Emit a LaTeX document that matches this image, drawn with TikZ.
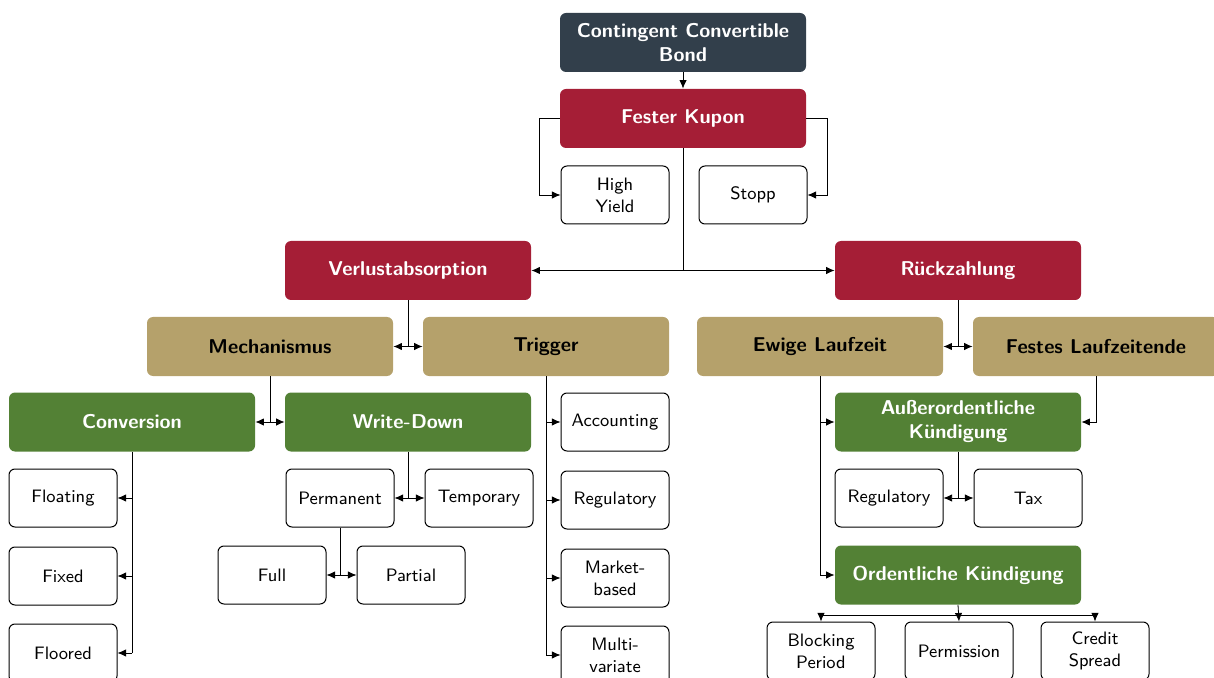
\documentclass[tikz,border=0pt]{standalone}
\usepackage{tikz}
\usetikzlibrary{arrows.meta,positioning}
\definecolor{cocoslate}{RGB}{50,63,75}
\definecolor{cocored}{RGB}{165,30,54}
\definecolor{cocotan}{RGB}{181,161,107}
\definecolor{cocogreen}{RGB}{83,129,53}

\begin{document}
\begin{tikzpicture}[x=0.5pt, y=-0.5pt,
  font=\sffamily\small,
  wide/.style={rounded corners=3pt, align=center, minimum width=123pt,
               minimum height=29.5pt, inner sep=2pt, font=\sffamily\bfseries},
  rootbox/.style={wide, fill=cocoslate, text=white},
  redbox/.style={wide, fill=cocored, text=white},
  tanbox/.style={wide, fill=cocotan, text=black},
  greenbox/.style={wide, fill=cocogreen, text=white},
  leaf/.style={draw, rounded corners=3pt, align=center, minimum width=54pt,
               minimum height=29pt, inner sep=1pt, line width=0.5pt},
  arr/.style={-{Latex[length=1.5mm, width=1.3mm]}, line width=0.4pt},
  dbl/.style={{Latex[length=1.5mm, width=1.3mm]}-{Latex[length=1.5mm, width=1.3mm]}, line width=0.4pt},
  trunk/.style={line width=0.4pt}]
\useasboundingbox (0,0) rectangle (1214,678);
% top of the tree
\node[rootbox] (root) at (683,42.5) {Contingent Convertible\\Bond};
\node[redbox] (kupon) at (683,118.5) {Fester Kupon};
\node[leaf] (yield) at (615,195) {High\\Yield};
\node[leaf, right=14.5pt of yield] (stopp) {Stopp};
\node[redbox] (verlust) at (408,270.5) {Verlustabsorption};
\node[redbox] (rueck) at (958,270.5) {R\"uckzahlung};
% second level
\node[tanbox] (mech) at (270,346.5) {Mechanismus};
\node[tanbox] (trig) at (546,346.5) {Trigger};
\node[tanbox] (ewig) at (820,346.5) {Ewige Laufzeit};
\node[tanbox] (festes) at (1096,346.5) {Festes Laufzeitende};
\node[greenbox] (conv) at (132,422) {Conversion};
\node[greenbox] (wdown) at (408,422) {Write-Down};
\node[greenbox] (aord) at (958,422) {Au\ss erordentliche\\K\"undigung};
\node[greenbox] (ord) at (958,575) {Ordentliche K\"undigung};
% leaves
\node[leaf] (float) at (63,498) {Floating};
\node[leaf, below=9.5pt of float] (fixed) {Fixed};
\node[leaf, below=9pt of fixed] (floored) {Floored};
\node[leaf] (perm) at (340,498) {Permanent};
\node[leaf, right=15pt of perm] (temp) {Temporary};
\node[leaf] (full) at (272,575) {Full};
\node[leaf, right=15pt of full] (partial) {Partial};
\node[leaf] (acc) at (615,422) {Accounting};
\node[leaf, below=9.5pt of acc] (treg) {Regulatory};
\node[leaf, below=9.5pt of treg] (market) {Market-\\based};
\node[leaf, below=9pt of market] (multi) {Multi-\\variate};
\node[leaf] (creg) at (889,498) {Regulatory};
\node[leaf, right=15pt of creg] (tax) {Tax};
\node[leaf] (block) at (821,651) {Blocking\\Period};
\node[leaf] (permis) at (959,651) {Permission};
\node[leaf] (credit) at (1095,651) {Credit\\Spread};
% connectors
\draw[arr] (root) -- (kupon);
\draw[arr] (kupon.west) -- ++(-20,0) |- (yield.west);
\draw[arr] (kupon.east) -- ++(21,0) |- (stopp.east);
\draw[trunk] (kupon.south) -- (kupon.south |- verlust.east);
\draw[dbl] (verlust) -- (rueck);
\draw[trunk] (verlust.south) -- (verlust.south |- mech.east);
\draw[dbl] (mech) -- (trig);
\draw[trunk] (rueck.south) -- (rueck.south |- ewig.east);
\draw[dbl] (ewig) -- (festes);
\draw[trunk] (mech.south) -- (mech.south |- conv.east);
\draw[dbl] (conv) -- (wdown);
\draw[trunk] (conv.south) -- (conv.south |- floored.east);
\foreach \n in {float,fixed,floored}
  \draw[arr] (conv.south |- \n.east) -- (\n.east);
\draw[trunk] (wdown.south) -- (wdown.south |- perm.east);
\draw[dbl] (perm) -- (temp);
\draw[trunk] (perm.south) -- (perm.south |- full.east);
\draw[dbl] (full) -- (partial);
\draw[trunk] (trig.south) -- (trig.south |- multi.west);
\foreach \n in {acc,treg,market,multi}
  \draw[arr] (trig.south |- \n.west) -- (\n.west);
\draw[trunk] (ewig.south) -- (ewig.south |- ord.west);
\draw[arr] (ewig.south |- aord.west) -- (aord.west);
\draw[arr] (ewig.south |- ord.west) -- (ord.west);
\draw[arr] (festes.south) |- (aord.east);
\draw[trunk] (aord.south) -- (aord.south |- creg.east);
\draw[dbl] (creg) -- (tax);
\draw[arr] (ord.south) -- (permis.north);
\draw[trunk] (ord.south) ++(0,10) coordinate (split) (split -| block.north) -- (split -| credit.north);
\draw[arr] (split -| block.north) -- (block.north);
\draw[arr] (split -| credit.north) -- (credit.north);
\end{tikzpicture}
\end{document}
